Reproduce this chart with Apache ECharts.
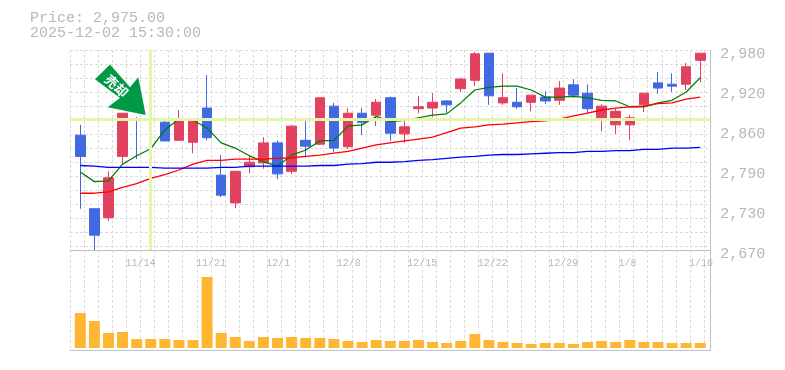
<!DOCTYPE html>
<html><head><meta charset="utf-8">
<style>html,body{margin:0;padding:0;background:#fff}#c{width:785px;height:370px}</style>
<script src="https://cdn.jsdelivr.net/npm/echarts@6/dist/echarts.min.js"></script>
</head><body><div id="c"></div>
<script>
const categories = ['11/10','11/11','11/12','11/13','11/14','11/17','11/18','11/19','11/20','11/21','11/25','11/26','11/27','11/28','12/1','12/2','12/3','12/4','12/5','12/8','12/9','12/10','12/11','12/12','12/15','12/16','12/17','12/18','12/19','12/22','12/23','12/24','12/25','12/26','12/29','12/30','1/5','1/6','1/7','1/8','1/9','1/13','1/14','1/15','1/16'];
const EMPTY = ['-','-','-','-'];
// open, close, low, high
const candles = [
[2848,2815,2734,2864],[2734,2693,2670,2735],[2720,2782,2715,2792],[2815,2882,2803,2882],EMPTY,
[2873,2872,2846,2880],[2868,2839,2839,2875],[2840,2870,2840,2887],[2837,2871,2820,2871],[2890,2844,2840,2941],
[2786,2755,2752,2817],[2743,2792,2735,2792],[2799,2806,2789,2817],[2805,2836,2796,2845],[2836,2788,2780,2840],
[2792,2862,2788,2864],[2840,2831,2813,2870],[2834,2906,2833,2906],[2893,2828,2822,2898],[2830,2882,2827,2890],
[2882,2868,2848,2890],[2879,2899,2862,2904],[2906,2851,2839,2908],[2850,2861,2836,2873],[2889,2892,2882,2909],
[2890,2899,2876,2913],[2901,2895,2882,2902],[2920,2935,2915,2937],[2933,2974,2924,2977],[2975,2909,2895,2975],
[2898,2906,2895,2944],[2899,2892,2889,2921],[2899,2910,2885,2910],[2907,2901,2896,2916],[2902,2921,2895,2932],
[2926,2910,2906,2935],[2913,2889,2881,2927],[2873,2893,2854,2896],[2864,2885,2850,2889],[2864,2875,2840,2879],
[2895,2913,2884,2913],[2929,2921,2912,2946],[2927,2924,2915,2944],[2927,2954,2918,2960],[2964,2975,2930,2975]];
// session that shows only a thin line, no body
const thinCandle = [2876,2811,2811,2876];
const thinIndex = 4;
const maShort = [2791,2776,2777,2803,2816,2827,2856,2873,2871,2859,2836,2828,2816,2807,2800,2817,2825,2839,2840,2862,2864,2877,2869,2871,2875,2879,2881,2898,2918,2922,2924,2924,2918,2907,2907,2908,2906,2902,2901,2892,2892,2898,2902,2915,2937];
const maMid = [2758,2758,2760,2767,2773,2781,2787,2794,2803,2809,2809,2811,2811,2811,2812,2813,2815,2817,2820,2823,2828,2833,2836,2839,2842,2845,2852,2859,2861,2864,2865,2867,2869,2870,2873,2878,2882,2887,2890,2892,2893,2897,2898,2904,2907];
const maLong = [2801,2800,2798,2798,2798,2798,2797,2797,2797,2797,2798,2798,2800,2800,2800,2800,2800,2801,2801,2803,2804,2806,2806,2807,2809,2810,2812,2814,2815,2817,2818,2818,2819,2820,2821,2821,2823,2823,2824,2824,2826,2826,2828,2828,2829];
const volume = [35,27,15,16,9,9,9,8,8,71,15,11,7,11,10,11,10,10,9,7,6,8,7,7,8,6,5,7,14,8,6,5,4,5,5,4,6,7,6,8,6,6,5,5,5];
const priceTickValues = [2670,2732,2794,2856,2918,2980];
const priceTickLabels = ['2,670','2,730','2,790','2,860','2,920','2,980'];
const dateLabels = ['11/14','11/21','12/1','12/8','12/15','12/22','12/29','1/8','1/16'];
const dateLabelSlots = [5,10,15,20,25,30,35,40,45];
const crossPrice = 2873, crossIndex = 5;
const titleLines = ['Price: 2,975.00','2025-12-02 15:30:00'];
const arrowLabel = '売却';

const slotPx = 14.09, frameL = 70, frameR = 710.3;
const slotMax = (frameR - frameL) / slotPx, labelShift = -15 / slotPx;
const grey = '#bfbfbf', textGrey = '#b8b8b8', gridCol = '#dcdcdc', mono = '"Liberation Mono", monospace';
const dash = {color: gridCol, width: 1, type: [3, 2]};
const candleL = 73.25, candleW = slotPx * 45;
const RED = '#e2425f', BLUE = '#4169e1';
const hiddenCat = i => ({type:'category', gridIndex:i, data:categories, boundaryGap:true, axisLine:{show:false}, axisTick:{show:false}, axisLabel:{show:false}, splitLine:{show:false}});

const chart = echarts.init(document.getElementById('c'), null, {renderer:'canvas'});
chart.setOption({
  animation:false, backgroundColor:'#fff',
  title:{left:30, top:11, padding:0, text:titleLines.join('\n'), textStyle:{color:textGrey, fontFamily:mono, fontSize:15, fontWeight:'normal', lineHeight:15}},
  grid:[
    {left:frameL, width:frameR-frameL, top:50, height:200},
    {left:frameL, width:frameR-frameL, top:250, height:100},
    {left:candleL, width:candleW, top:50, height:200},
    {left:candleL, width:candleW, top:250, height:98}
  ],
  xAxis:[
    {type:'value', gridIndex:0, min:0, max:slotMax, interval:1, axisLine:{show:true, onZero:false, lineStyle:{color:grey}}, axisTick:{show:false},
     splitLine:{show:true, showMaxLine:false, lineStyle:dash},
     axisLabel:{show:true, customValues:dateLabelSlots.map(k=>k+labelShift), align:'left', color:textGrey, fontFamily:mono, fontSize:10, margin:8, hideOverlap:false,
       formatter:v=>dateLabels[dateLabelSlots.indexOf(Math.round(v-labelShift))]||''}},
    {type:'value', gridIndex:1, min:0, max:slotMax, interval:1, axisLine:{show:true, onZero:false, lineStyle:{color:grey}}, axisTick:{show:false},
     axisLabel:{show:false}, splitLine:{show:true, showMaxLine:false, lineStyle:dash}},
    hiddenCat(2), hiddenCat(3)
  ],
  yAxis:[
    {type:'value', gridIndex:0, inverse:true, min:0, max:200, interval:14, axisLine:{show:false}, axisTick:{show:false}, axisLabel:{show:false}, splitLine:{show:true, lineStyle:dash}},
    {type:'value', gridIndex:0, position:'right', min:2670, max:2980, axisLine:{show:true, onZero:false, lineStyle:{color:grey}}, axisTick:{show:false}, splitLine:{show:false},
     axisLabel:{show:true, customValues:priceTickValues, color:textGrey, fontFamily:mono, fontSize:15, margin:10, verticalAlign:'top', lineHeight:8, hideOverlap:false,
       formatter:v=>priceTickLabels[priceTickValues.indexOf(v)]}},
    {type:'value', gridIndex:1, position:'right', min:0, max:100, axisLine:{show:true, onZero:false, lineStyle:{color:grey}}, axisTick:{show:false}, axisLabel:{show:false}, splitLine:{show:false}},
    {type:'value', gridIndex:2, min:2670, max:2980, axisLine:{show:false}, axisTick:{show:false}, axisLabel:{show:false}, splitLine:{show:false}},
    {type:'value', gridIndex:3, min:0, max:98, axisLine:{show:false}, axisTick:{show:false}, axisLabel:{show:false}, splitLine:{show:false}}
  ],
  series:[
    {type:'line', name:'crossH', xAxisIndex:0, yAxisIndex:1, data:[], z:1, silent:true,
     markLine:{silent:true, symbol:'none', label:{show:false}, lineStyle:{color:'#e6f5a9', width:3, type:'solid'}, data:[{yAxis:crossPrice}]}},
    {type:'line', name:'crossV', xAxisIndex:2, yAxisIndex:3, data:[], z:1, silent:true,
     markLine:{silent:true, symbol:'none', label:{show:false}, lineStyle:{color:'#e6f5a9', width:3, type:'solid'}, data:[{xAxis:categories[crossIndex]}]}},
    {type:'candlestick', name:'price', xAxisIndex:2, yAxisIndex:3, data:candles, barWidth:10, z:3, clip:true,
     itemStyle:{color:RED, borderColor:RED, color0:BLUE, borderColor0:BLUE, borderWidth:1}},
    {type:'candlestick', name:'thin', xAxisIndex:2, yAxisIndex:3, data:categories.map((c,i)=>i===thinIndex?thinCandle:EMPTY), barWidth:1, z:3,
     itemStyle:{color:BLUE, borderColor:BLUE, color0:BLUE, borderColor0:BLUE, borderWidth:1}},
    {type:'line', name:'maShort', xAxisIndex:2, yAxisIndex:3, data:maShort, symbol:'none', z:4, lineStyle:{color:'#007a00', width:1.25}},
    {type:'line', name:'maMid', xAxisIndex:2, yAxisIndex:3, data:maMid, symbol:'none', z:4, lineStyle:{color:'#ff0000', width:1.3}},
    {type:'line', name:'maLong', xAxisIndex:2, yAxisIndex:3, data:maLong, symbol:'none', z:4, lineStyle:{color:'#0000ff', width:1.3}},
    {type:'bar', name:'volume', xAxisIndex:3, yAxisIndex:4, data:volume, barWidth:11, z:3, itemStyle:{color:'#ffb733'}}
  ],
  graphic:[
    {type:'polygon', z:50, shape:{points:[[95,79.3],[110,64.5],[130,87.3],[138.3,77.3],[145.7,115],[107.7,107.3],[120,98]]}, style:{fill:'#009944'}},
    {type:'text', z:51, x:116.5, y:86, rotation:-0.75, originX:0, originY:0,
     style:{text:arrowLabel, fill:'#fff', fontFamily:'"Noto Sans CJK JP"', fontSize:13, fontWeight:'bold', align:'center', verticalAlign:'middle'}}
  ]
});
</script></body></html>
